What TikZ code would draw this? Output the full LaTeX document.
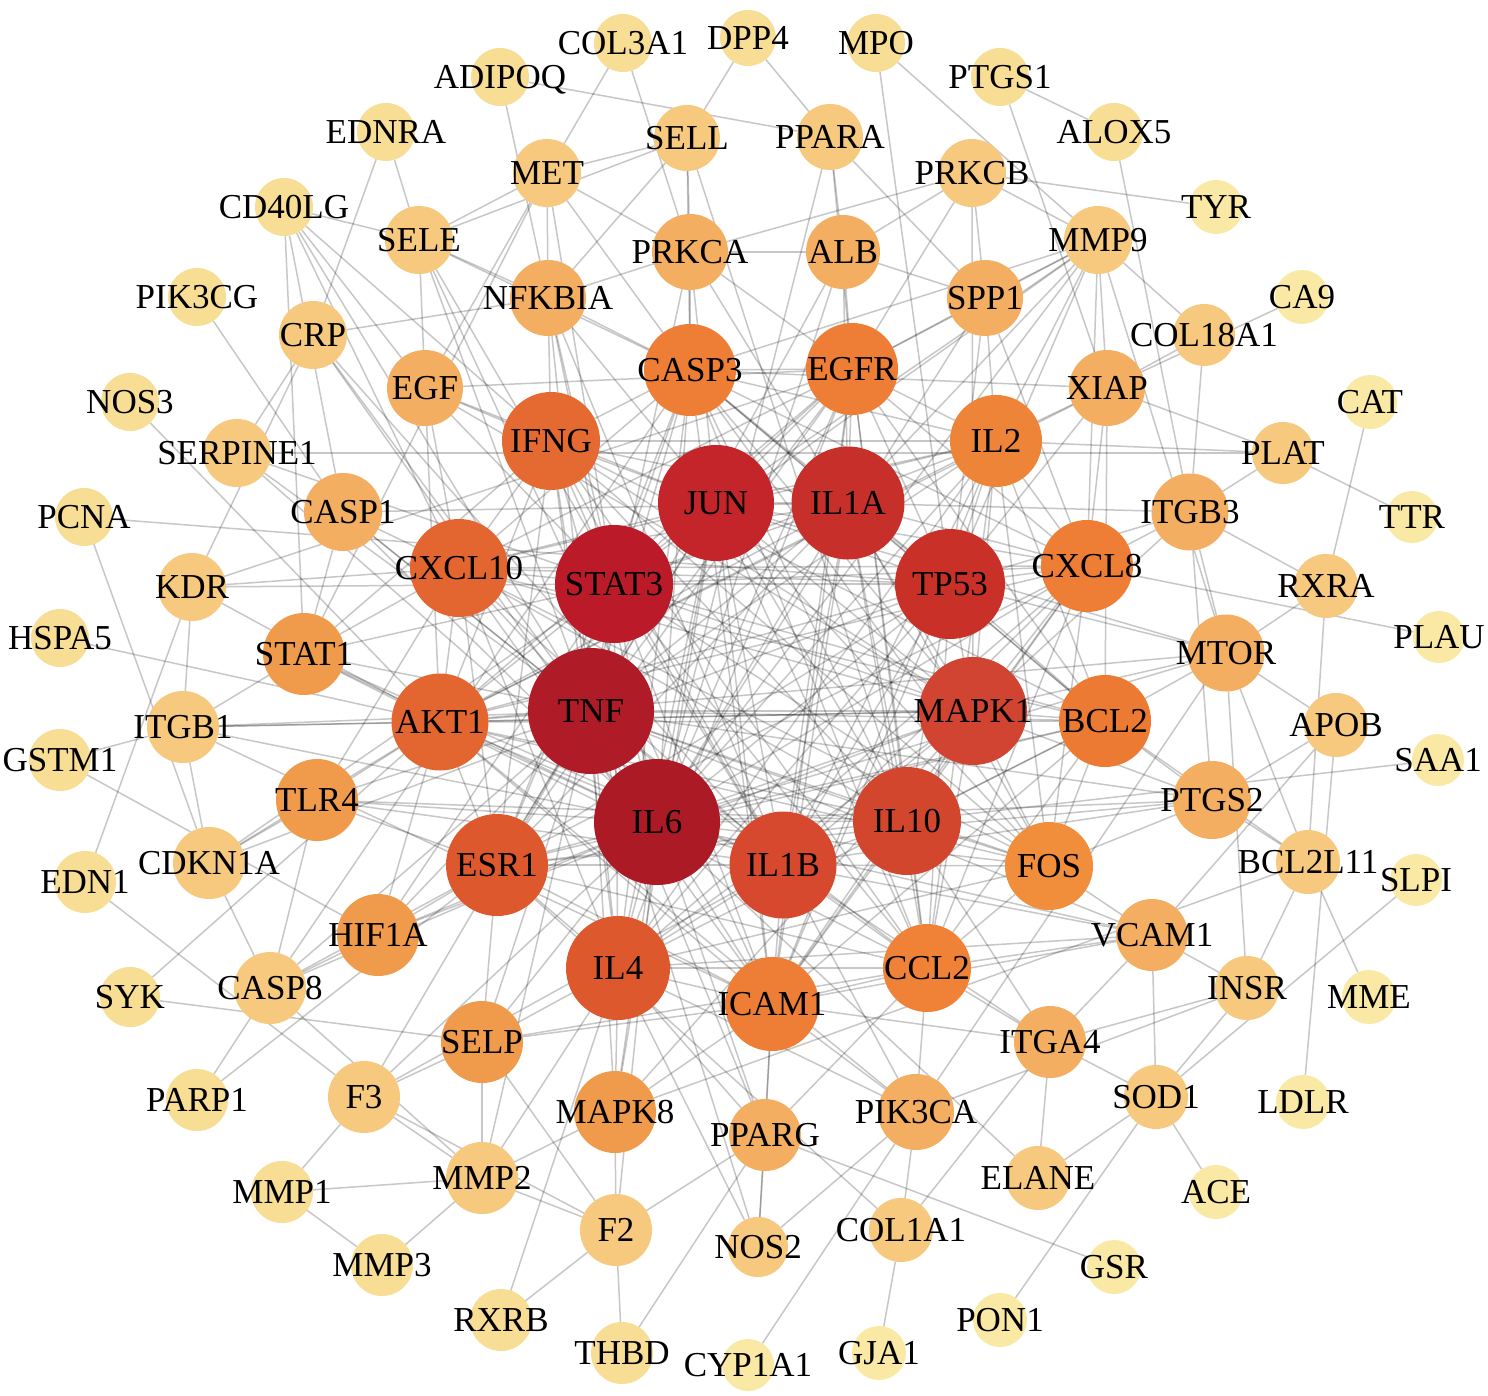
\documentclass[tikz,border=0pt]{standalone}
\usepackage{fontspec}
\setmainfont{Liberation Serif}
\pgfdeclarelayer{bg}\pgfdeclarelayer{fg}\pgfsetlayers{bg,main,fg}
\definecolor{ca}{HTML}{F9E9A4}
\definecolor{cb}{HTML}{F8DD95}
\definecolor{cc}{HTML}{F6C97E}
\definecolor{cd}{HTML}{F3AE62}
\definecolor{ce}{HTML}{F09B4C}
\definecolor{cFOS}{HTML}{F08E3C}
\definecolor{cCCL}{HTML}{EF8236}
\definecolor{cIL2}{HTML}{EE8438}
\definecolor{cg}{HTML}{EE7E35}
\definecolor{cBCL}{HTML}{ED7A33}
\definecolor{cIFN}{HTML}{E56A32}
\definecolor{ch}{HTML}{E3652F}
\definecolor{ci}{HTML}{DD582D}
\definecolor{cIL10}{HTML}{D3462E}
\definecolor{cIL1B}{HTML}{D6492E}
\definecolor{cMAP}{HTML}{D14431}
\definecolor{cTP}{HTML}{C93128}
\definecolor{cIL1A}{HTML}{C72F2A}
\definecolor{cJUN}{HTML}{C3252A}
\definecolor{cSTA}{HTML}{BB1B28}
\definecolor{cTNF}{HTML}{AF1B26}
\definecolor{cIL6}{HTML}{AC1A25}
\tikzset{
  gnode/.style={circle, draw=none, inner sep=0pt, outer sep=0pt},
  glabel/.style={inner sep=0pt, font=\fontsize{35}{40}\selectfont, text=black, text height=23pt, text depth=0pt},
  lnk/.style={draw=black, draw opacity=0.22, line width=1.5pt}
}
\newcommand\gn[5]{%
  \node[gnode, minimum size=#4pt, fill=#5] (#1) at (#2,#3) {};%
  \begin{pgfonlayer}{fg}\node[glabel] (#1-lab) at (#2,#3) {#1};\end{pgfonlayer}}
\begin{document}
\begin{tikzpicture}[x=1pt, y=-1pt]
\useasboundingbox (0,0) rectangle (1488,1396);
\begin{pgfonlayer}{bg}\fill[white] (0,0) rectangle (1488,1396);\end{pgfonlayer}
% outer ring
\gn{DPP4}{748}{38}{56}{cb}
\gn{MPO}{876}{43}{58}{cb}
\gn{COL3A1}{623}{43}{58}{cb}
\gn{ADIPOQ}{500}{77}{58}{cb}
\gn{PTGS1}{1000}{77}{58}{cb}
\gn{ALOX5}{1114}{132}{58}{cb}
\gn{EDNRA}{386}{132}{58}{cb}
\gn{TYR}{1216}{207}{54}{ca}
\gn{CD40LG}{284}{207}{58}{cb}
\gn{CA9}{1302}{297}{54}{ca}
\gn{PIK3CG}{197}{297}{58}{cb}
\gn{CAT}{1370}{402}{54}{ca}
\gn{NOS3}{130}{402}{58}{cb}
\gn{TTR}{1412}{517}{52}{ca}
\gn{PCNA}{84}{517}{58}{cb}
\gn{PLAU}{1439}{637}{52}{ca}
\gn{HSPA5}{60}{638}{58}{cb}
\gn{SAA1}{1438}{760}{52}{ca}
\gn{GSTM1}{60}{760}{62}{cb}
\gn{SLPI}{1416}{880}{52}{ca}
\gn{EDN1}{85}{882}{62}{cb}
\gn{MME}{1369}{997}{54}{ca}
\gn{SYK}{130}{997}{60}{cb}
\gn{LDLR}{1303}{1102}{54}{ca}
\gn{PARP1}{197}{1100}{62}{cb}
\gn{ACE}{1216}{1192}{54}{ca}
\gn{MMP1}{282}{1192}{62}{cb}
\gn{GSR}{1114}{1267}{54}{ca}
\gn{MMP3}{382}{1265}{62}{cb}
\gn{PON1}{1000}{1320}{54}{ca}
\gn{RXRB}{501}{1320}{62}{cb}
\gn{GJA1}{879}{1353}{54}{ca}
\gn{THBD}{622}{1353}{62}{cb}
\gn{CYP1A1}{748}{1365}{52}{ca}
% second ring
\gn{SELL}{687}{138}{66}{cc}
\gn{PPARA}{830}{137}{66}{cc}
\gn{MET}{547}{173}{68}{cc}
\gn{PRKCB}{972}{173}{68}{cc}
\gn{SELE}{419}{240}{68}{cc}
\gn{MMP9}{1098}{240}{68}{cc}
\gn{CRP}{313}{335}{68}{cc}
\gn{COL18A1}{1204}{335}{62}{cc}
\gn{SERPINE1}{237}{453}{68}{cc}
\gn{PLAT}{1283}{453}{62}{cc}
\gn{KDR}{192}{587}{68}{cc}
\gn{RXRA}{1326}{586}{64}{cc}
\gn{ITGB1}{183}{727}{72}{cc}
\gn{APOB}{1336}{725}{64}{cc}
\gn{CDKN1A}{209}{863}{72}{cc}
\gn{BCL2L11}{1308}{862}{64}{cc}
\gn{CASP8}{270}{988}{72}{cc}
\gn{INSR}{1247}{988}{64}{cc}
\gn{F3}{364}{1097}{72}{cc}
\gn{SOD1}{1156}{1097}{64}{cc}
\gn{MMP2}{482}{1178}{72}{cc}
\gn{ELANE}{1038}{1178}{64}{cc}
\gn{F2}{616}{1230}{72}{cc}
\gn{NOS2}{758}{1247}{60}{cc}
\gn{COL1A1}{901}{1230}{64}{cc}
% third ring
\gn{PRKCA}{690}{252}{76}{cd}
\gn{ALB}{843}{252}{74}{cd}
\gn{NFKBIA}{548}{298}{76}{cd}
\gn{SPP1}{985}{298}{76}{cd}
\gn{EGF}{425}{388}{76}{cd}
\gn{XIAP}{1107}{388}{76}{cd}
\gn{CASP1}{343}{512}{78}{cd}
\gn{ITGB3}{1190}{512}{77}{cd}
\gn{MTOR}{1226}{653}{77}{cd}
\gn{PTGS2}{1212}{800}{78}{cd}
\gn{VCAM1}{1152}{935}{72}{cd}
\gn{ITGA4}{1050}{1042}{72}{cd}
\gn{PIK3CA}{916}{1112}{76}{cd}
\gn{PPARG}{765}{1135}{72}{cd}
\gn{STAT1}{304}{654}{82}{ce}
\gn{TLR4}{317}{800}{82}{ce}
\gn{HIF1A}{378}{935}{82}{ce}
\gn{SELP}{482}{1042}{82}{ce}
\gn{MAPK8}{615}{1112}{82}{ce}
% inner
\gn{FOS}{1049}{866}{88}{cFOS}
\gn{CCL2}{927}{968}{88}{cCCL}
\gn{IL2}{996}{441}{92}{cIL2}
\gn{CASP3}{690}{370}{92}{cg}
\gn{EGFR}{852}{369}{92}{cg}
\gn{CXCL8}{1087}{566}{92}{cg}
\gn{BCL2}{1105}{721}{92}{cBCL}
\gn{ICAM1}{772}{1004}{94}{cg}
\gn{IFNG}{551}{441}{98}{cIFN}
\gn{CXCL10}{459}{568}{98}{ch}
\gn{AKT1}{440}{722}{97}{ch}
\gn{ESR1}{497}{865}{102}{ci}
\gn{IL4}{618}{968}{104}{ci}
\gn{IL10}{907}{821}{108}{cIL10}
\gn{IL1B}{783}{865}{107}{cIL1B}
\gn{MAPK1}{973}{711}{108}{cMAP}
\gn{TP53}{950}{584}{110}{cTP}
\gn{IL1A}{848}{503}{113}{cIL1A}
\gn{JUN}{716}{503}{116}{cJUN}
\gn{STAT3}{614}{584}{118}{cSTA}
\gn{TNF}{591}{711}{126}{cTNF}
\gn{IL6}{657}{822}{126}{cIL6}
% connectors
\begin{pgfonlayer}{bg}
\foreach \a [count=\i] in {JUN,IL1A,STAT3,TP53,TNF,MAPK1,IL6,IL1B,IL10,CASP3,EGFR,IFNG,IL2,CXCL10,CXCL8,AKT1,BCL2,ESR1,FOS,IL4,CCL2,ICAM1}{
  \foreach \b [count=\j] in {JUN,IL1A,STAT3,TP53,TNF,MAPK1,IL6,IL1B,IL10,CASP3,EGFR,IFNG,IL2,CXCL10,CXCL8,AKT1,BCL2,ESR1,FOS,IL4,CCL2,ICAM1}{
    \pgfmathtruncatemacro\km{mod(\i+2*\j,7)}
    \ifnum\j>\i \ifnum\km>0 \draw[lnk] (\a) -- (\b); \fi\fi
  }
}
\foreach \a/\b in {COL3A1/MET, COL3A1/PRKCA, ADIPOQ/PPARA, ADIPOQ/NFKBIA, DPP4/SELL, DPP4/PPARA, MPO/TP53, MPO/MMP9, PTGS1/ALOX5, PTGS1/XIAP, ALOX5/ITGB3, TYR/PRKCB, CA9/XIAP, CAT/RXRA, TTR/PLAT, PLAU/CXCL8, SAA1/IL10, SLPI/SOD1, MME/BCL2L11, LDLR/APOB, ACE/SOD1, GSR/PPARG, PON1/SOD1, GJA1/COL1A1, CYP1A1/PIK3CA, THBD/F2, THBD/PPARG, RXRB/F2, RXRB/IL4, MMP3/MMP1, MMP3/MMP2, MMP1/MMP2, MMP1/F3, PARP1/CASP8, PARP1/ESR1, SYK/SELP, SYK/AKT1, EDN1/KDR, EDN1/F3, GSTM1/ITGB1, GSTM1/HIF1A, HSPA5/AKT1, PCNA/TP53, PCNA/CDKN1A, NOS3/AKT1, PIK3CG/CASP1, CD40LG/SELE, CD40LG/EGF, CD40LG/IFNG, CD40LG/CXCL10, CD40LG/CASP1, CD40LG/STAT1, CD40LG/TNF, EDNRA/CRP, EDNRA/SELE}
  \draw[lnk] (\a) -- (\b);
\foreach \a/\b in {SELL/MET, SELL/NFKBIA, SELL/PRKCA, SELL/CASP3, SELL/IL10, SELL/SELE, MET/SELE, MET/NFKBIA, MET/PRKCA, MET/EGF, MET/STAT1, MET/STAT3, MET/CASP3, SELE/NFKBIA, SELE/EGF, SELE/CASP3, SELE/ICAM1, SELE/TNF, SELE/IL1B, CRP/NFKBIA, CRP/IL6, CRP/TNF, CRP/SERPINE1, CRP/IL1B, SERPINE1/PLAT, SERPINE1/TNF, SERPINE1/IL6, SERPINE1/STAT3, KDR/CXCL10, KDR/ITGB1, KDR/STAT3, KDR/CRP, KDR/AKT1, KDR/EGFR, ITGB1/STAT1, ITGB1/AKT1, ITGB1/TNF, ITGB1/IL6, ITGB1/CDKN1A, ITGB1/MAPK1, ITGB1/ICAM1, CDKN1A/TLR4, CDKN1A/TP53, CDKN1A/AKT1, CDKN1A/CASP8, CDKN1A/STAT3, CASP8/HIF1A, CASP8/TLR4, CASP8/CASP3, CASP8/IL6, CASP8/ESR1, CASP8/MMP2, CASP8/TNF, F3/SELP, F3/MMP2, F3/IL6, F3/F2, F3/IL1B, F3/TNF, MMP2/F2, MMP2/SELP, MMP2/IL4, MMP2/MAPK8, MMP2/TNF, F2/MAPK8, F2/PPARG, F2/SELP, F2/IL6, NOS2/PIK3CA, NOS2/IL4, NOS2/ICAM1, NOS2/TNF, COL1A1/PIK3CA, COL1A1/ITGA4, COL1A1/ESR1, ELANE/ITGA4, ELANE/SOD1, ELANE/IL6, SOD1/ITGA4, SOD1/INSR, SOD1/VCAM1, INSR/ITGA4, INSR/MTOR, INSR/PIK3CA, INSR/VCAM1, INSR/BCL2L11, BCL2L11/PTGS2, BCL2L11/BCL2, BCL2L11/MTOR, BCL2L11/MAPK8, APOB/MTOR, APOB/VCAM1, APOB/PTGS2, RXRA/MTOR, RXRA/ITGB3, RXRA/BCL2L11, PLAT/XIAP, PLAT/ITGB3, PLAT/IL2, COL18A1/MMP9, COL18A1/XIAP, COL18A1/ITGB3}
  \draw[lnk] (\a) -- (\b);
\foreach \a/\b in {MMP9/SPP1, MMP9/EGFR, MMP9/CASP3, MMP9/IL2, MMP9/TP53, MMP9/IL1A, MMP9/JUN, MMP9/XIAP, MMP9/PRKCB, MMP9/MTOR, MMP9/CXCL8, MMP9/STAT3, MMP9/IL6, PRKCB/ALB, PRKCB/SPP1, PRKCB/PRKCA, PRKCB/MAPK1, PRKCB/EGFR, PPARA/ALB, PPARA/SPP1, PPARA/EGFR, PPARA/IL6, PRKCA/ALB, PRKCA/NFKBIA, PRKCA/CASP3, PRKCA/JUN, PRKCA/EGFR, PRKCA/MAPK1, PRKCA/TNF, ALB/EGFR, ALB/IL1A, ALB/IL6, ALB/SPP1, ALB/TNF, NFKBIA/CASP3, NFKBIA/IFNG, NFKBIA/TNF, NFKBIA/STAT3, NFKBIA/IL1B, NFKBIA/IL6, NFKBIA/JUN, SPP1/EGFR, SPP1/IL2, SPP1/TP53, SPP1/IL6, SPP1/CXCL8, EGF/EGFR, EGF/IFNG, EGF/STAT3, EGF/CXCL10, EGF/AKT1, EGF/JUN, EGF/MAPK1, XIAP/CASP3, XIAP/IL2, XIAP/CXCL8, XIAP/TP53, XIAP/BCL2, XIAP/AKT1, CASP1/IL1B, CASP1/CXCL10, CASP1/STAT1, CASP1/IL1A, CASP1/TNF, CASP1/IL6, ITGB3/CXCL8, ITGB3/MTOR, ITGB3/TP53, ITGB3/PTGS2, ITGB3/IL1A, ITGB3/MAPK1, STAT1/STAT3, STAT1/IFNG, STAT1/AKT1, STAT1/TNF, STAT1/CXCL10, STAT1/IL6, STAT1/IL1B, MTOR/AKT1, MTOR/MAPK1, MTOR/BCL2, MTOR/TP53, MTOR/JUN, MTOR/IL6, TLR4/TNF, TLR4/IL6, TLR4/AKT1, TLR4/ESR1, TLR4/IL1B, TLR4/CXCL10, TLR4/IL10, PTGS2/MAPK1, PTGS2/IL1B, PTGS2/BCL2, PTGS2/FOS, PTGS2/IL6, PTGS2/TNF, PTGS2/ESR1, HIF1A/AKT1, HIF1A/ESR1, HIF1A/IL6, HIF1A/STAT3, HIF1A/TNF, HIF1A/MAPK1, VCAM1/CCL2, VCAM1/ICAM1, VCAM1/IL1B, VCAM1/IL6, VCAM1/FOS, VCAM1/ITGA4, VCAM1/TNF, VCAM1/IL4, SELP/IL4, SELP/ICAM1, SELP/IL6, SELP/ESR1, SELP/CCL2, SELP/TNF, ITGA4/CCL2, ITGA4/ICAM1, ITGA4/IL10, ITGA4/IL1B, MAPK8/IL4, MAPK8/JUN, MAPK8/TNF, MAPK8/IL6, MAPK8/ICAM1, MAPK8/MAPK1, PIK3CA/ICAM1, PIK3CA/CCL2, PIK3CA/IL1B, PIK3CA/AKT1, PIK3CA/MTOR, PIK3CA/IL4, PPARG/IL4, PPARG/IL6, PPARG/TNF, PPARG/ICAM1, PPARG/NOS2, PPARG/CCL2}
  \draw[lnk] (\a) -- (\b);
\end{pgfonlayer}
\end{tikzpicture}
\end{document}
